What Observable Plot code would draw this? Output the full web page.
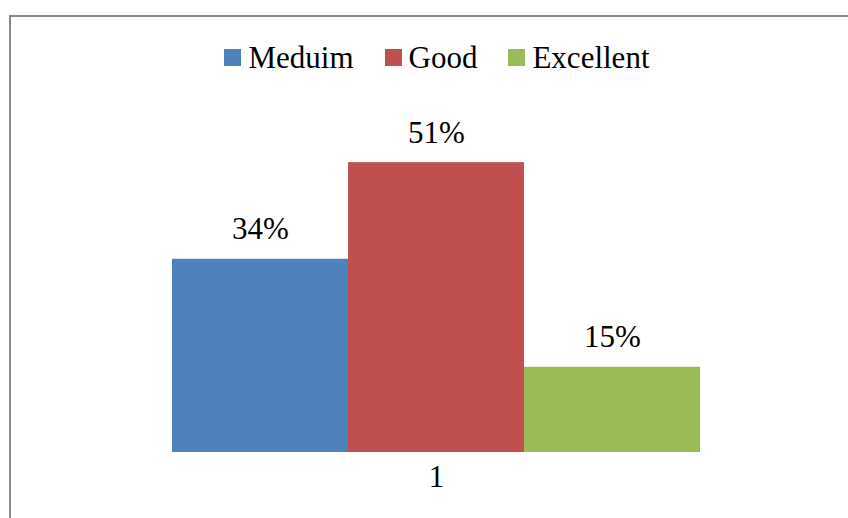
<!DOCTYPE html>
<html>
<head>
<meta charset="utf-8">
<script src="https://cdn.jsdelivr.net/npm/d3@7"></script>
<script src="https://cdn.jsdelivr.net/npm/@observablehq/plot@0.6"></script>
<style>
  html, body { margin: 0; padding: 0; background: #fff; overflow: hidden; }
  body { width: 848px; height: 518px; position: relative; font-family: 'Liberation Serif', serif; }
  #frame {
    position: absolute; left: 9px; top: 15px; width: 900px; height: 600px;
    border: 2px solid #888; box-sizing: border-box; pointer-events: none;
  }
  #legend {
    position: absolute; left: 0; top: 43px; width: 874px;
    display: flex; justify-content: center; align-items: flex-start;
    font-family: 'Liberation Serif', serif;
    font-size: 31px; line-height: 30px; color: #000;
  }
  #legend .item { display: flex; align-items: flex-start; margin-right: 31px; }
  #legend .item:last-child { margin-right: 0; }
  #legend .swatch { width: 17px; height: 17px; margin-top: 6px; margin-right: 7px; }
  #chart { position: absolute; left: 0; top: 90px; }
</style>
</head>
<body>
<div id="frame"></div>
<div id="legend"></div>
<div id="chart"></div>
<script>
// Single category with three rating series
const categories = ["1"];
const series = ["Meduim", "Good", "Excellent"];
const values = [0.34, 0.51, 0.15];
const colors = ["#4F81BD", "#C0504D", "#9BBB59"];

const data = series.map((s, i) => ({category: categories[0], series: s, value: values[i]}));

// Legend row
const legend = document.getElementById("legend");
series.forEach((s, i) => {
  const item = document.createElement("div");
  item.className = "item";
  const sw = document.createElement("div");
  sw.className = "swatch";
  sw.style.background = colors[i];
  const label = document.createElement("span");
  label.textContent = s;
  item.append(sw, label);
  legend.append(item);
});

const chart = Plot.plot({
  width: 848,
  height: 428,
  marginLeft: 171,
  marginRight: 147,
  marginTop: 21,
  marginBottom: 66,
  style: {fontFamily: "'Liberation Serif', serif", fontSize: "31px", color: "#000", background: "transparent", overflow: "visible"},
  fx: {domain: categories, padding: 0, label: null, axis: null},
  x: {domain: series, padding: 0, axis: null},
  y: {domain: [0, 0.6], axis: null},
  color: {domain: series, range: colors},
  marks: [
    Plot.barY(data, {fx: "category", x: "series", y: "value", fill: "series"}),
    Plot.text(data, {
      fx: "category", x: "series", y: "value",
      text: d => Math.round(d.value * 100) + "%",
      lineAnchor: "bottom", dy: -20, fontSize: 31, fill: "#000"
    }),
    Plot.axisFx({anchor: "bottom", tickSize: 0, tickPadding: 12, fontSize: 31, label: null, fill: "#000"})
  ]
});
document.getElementById("chart").append(chart);
</script>
</body>
</html>
